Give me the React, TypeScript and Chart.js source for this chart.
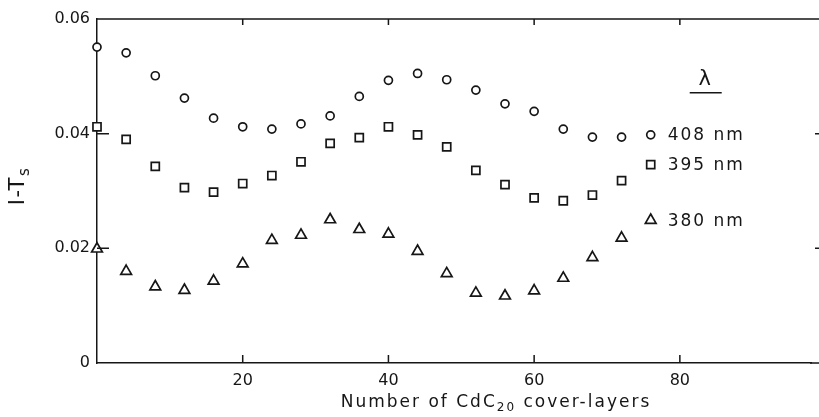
import React, { useEffect, useRef } from 'react';
import { Chart, registerables } from 'chart.js';

Chart.register(...registerables);

// ---- data ----
const layers = [0, 4, 8, 12, 16, 20, 24, 28, 32, 36, 40, 44, 48, 52, 56, 60, 64, 68, 72, 76];
const t408 = [0.0551, 0.0541, 0.0501, 0.0462, 0.0427, 0.0412, 0.0408, 0.0417, 0.0431, 0.0465, 0.0493, 0.0505, 0.0494, 0.0476, 0.0452, 0.0439, 0.0408, 0.0394, 0.0394, 0.0398];
const t395 = [0.0412, 0.0390, 0.0343, 0.0306, 0.0298, 0.0313, 0.0327, 0.0351, 0.0383, 0.0393, 0.0412, 0.0398, 0.0377, 0.0336, 0.0311, 0.0288, 0.0283, 0.0293, 0.0318, 0.0346];
const t380 = [0.0199, 0.0160, 0.0133, 0.0127, 0.0143, 0.0173, 0.0214, 0.0223, 0.0250, 0.0233, 0.0225, 0.0195, 0.0156, 0.0122, 0.0117, 0.0126, 0.0148, 0.0184, 0.0218, 0.0249];
const seriesLabels = ['408 nm', '395 nm', '380 nm'];
const xTickValues = [20, 40, 60, 80];
const yTickValues = [0.02, 0.04];
const legendSymbol = 'λ';

const FONT = '"DejaVu Sans", "Liberation Sans", sans-serif';
const INK = '#161616';

export default function App() {
  const ref = useRef<HTMLCanvasElement>(null);

  useEffect(() => {
    const canvas = ref.current;
    if (!canvas) return;

    const decor = {
      id: 'decor',
      afterDraw(chart: any) {
        const ctx = chart.ctx as CanvasRenderingContext2D;
        const { left, right, top, bottom } = chart.chartArea;
        const xs = chart.scales.x;
        const ys = chart.scales.y;
        const W = chart.width;
        ctx.save();
        ctx.strokeStyle = INK;
        ctx.lineWidth = 1.5;
        // top frame line and bottom extension to the edge
        ctx.beginPath();
        ctx.moveTo(left, top);
        ctx.lineTo(W, top);
        ctx.moveTo(right - 1, bottom);
        ctx.lineTo(W, bottom);
        ctx.stroke();
        // inward ticks
        ctx.beginPath();
        xTickValues.forEach((v) => {
          const px = xs.getPixelForValue(v);
          ctx.moveTo(px, bottom);
          ctx.lineTo(px, bottom - 8);
          ctx.moveTo(px, top);
          ctx.lineTo(px, top + 6);
        });
        yTickValues.forEach((v) => {
          const py = ys.getPixelForValue(v);
          ctx.moveTo(left, py);
          ctx.lineTo(left + 12, py);
          ctx.moveTo(W, py);
          ctx.lineTo(W - 4, py);
        });
        ctx.stroke();

        // series labels next to last points
        ctx.fillStyle = INK;
        ctx.font = `17px ${FONT}`;
        (ctx as any).letterSpacing = '2px';
        ctx.textAlign = 'left';
        ctx.textBaseline = 'middle';
        let firstX = 0;
        let firstY = 0;
        chart.data.datasets.forEach((_ds: any, i: number) => {
          const meta = chart.getDatasetMeta(i);
          const pt = meta.data[meta.data.length - 1];
          if (i === 0) {
            firstX = pt.x + 17;
            firstY = pt.y;
          }
          ctx.fillText(seriesLabels[i], pt.x + 17, pt.y + 1);
        });

        // lambda header with underline
        (ctx as any).letterSpacing = '0px';
        ctx.font = `21px ${FONT}`;
        ctx.textAlign = 'center';
        ctx.fillText(legendSymbol, firstX + 37, firstY - 55);
        ctx.beginPath();
        ctx.moveTo(firstX + 22, firstY - 42);
        ctx.lineTo(firstX + 54, firstY - 42);
        ctx.stroke();

        // x axis title with subscript
        ctx.textAlign = 'left';
        ctx.textBaseline = 'alphabetic';
        (ctx as any).letterSpacing = '2px';
        const seg1 = 'Number of CdC';
        const sub = '20';
        const seg2 = ' cover-layers';
        ctx.font = `17px ${FONT}`;
        const w1 = ctx.measureText(seg1).width;
        const w3 = ctx.measureText(seg2).width;
        ctx.font = `12px ${FONT}`;
        const w2 = ctx.measureText(sub).width;
        const total = w1 + w2 + w3;
        let x0 = 496 - total / 2;
        const base = 407;
        ctx.font = `17px ${FONT}`;
        ctx.fillText(seg1, x0, base);
        x0 += w1;
        ctx.font = `12px ${FONT}`;
        ctx.fillText(sub, x0, base + 4);
        x0 += w2;
        ctx.font = `17px ${FONT}`;
        ctx.fillText(seg2, x0, base);

        // y axis title rotated with subscript
        ctx.save();
        ctx.translate(19, 186);
        ctx.rotate(-Math.PI / 2);
        (ctx as any).letterSpacing = '1.5px';
        ctx.textBaseline = 'middle';
        const ym = 'I-T';
        const ys2 = 's';
        ctx.font = `21px ${FONT}`;
        const wm = ctx.measureText(ym).width;
        ctx.font = `15px ${FONT}`;
        const wsub = ctx.measureText(ys2).width;
        let yx = -(wm + wsub) / 2;
        ctx.font = `21px ${FONT}`;
        ctx.fillText(ym, yx, 0);
        yx += wm;
        ctx.font = `15px ${FONT}`;
        ctx.fillText(ys2, yx, 6);
        ctx.restore();

        ctx.restore();
      },
    };

    const mk = (vals: number[], style: string, radius: number) => ({
      data: layers.map((x, i) => ({ x, y: vals[i] })),
      showLine: false,
      pointStyle: style,
      pointRadius: radius,
      pointHoverRadius: radius,
      pointBorderWidth: 1.7,
      pointBorderColor: INK,
      pointBackgroundColor: '#ffffff',
      borderColor: INK,
      backgroundColor: '#ffffff',
      clip: false,
    });

    const chart = new Chart(canvas, {
      type: 'scatter',
      data: {
        datasets: [
          mk(t408, 'circle', 4),
          mk(t395, 'rect', 5.7),
          mk(t380, 'triangle', 6.2),
        ] as any,
      },
      options: {
        responsive: false,
        animation: false,
        devicePixelRatio: 1,
        layout: { padding: { left: 0, right: 1, top: 19, bottom: 0 } },
        plugins: {
          legend: { display: false },
          tooltip: { enabled: false },
        },
        scales: {
          x: {
            type: 'linear',
            min: 0,
            max: 98,
            grid: { display: false, drawTicks: false },
            border: { display: true, color: INK, width: 1.5 },
            ticks: {
              stepSize: 20,
              padding: 8,
              color: INK,
              font: { family: FONT, size: 16 },
              maxRotation: 0,
              autoSkip: false,
              callback: (v: any) => {
                const n = Number(v);
                return n > 0 && n % 20 === 0 ? String(n) : '';
              },
            },
            afterFit: (s: any) => {
              s.height = 54;
            },
          },
          y: {
            type: 'linear',
            min: 0,
            max: 0.06,
            grid: { display: false, drawTicks: false },
            border: { display: true, color: INK, width: 1.5 },
            ticks: {
              stepSize: 0.02,
              padding: 7,
              color: INK,
              font: { family: FONT, size: 16 },
              callback: (v: any) => {
                const n = Number(v);
                return n === 0 ? '0' : n.toFixed(2);
              },
            },
            afterFit: (s: any) => {
              s.width = 97;
            },
          },
        },
      } as any,
      plugins: [decor],
    });

    return () => chart.destroy();
  }, []);

  return (
    <div style={{ position: 'absolute', left: 0, top: 0, width: 819, height: 417, background: '#fff' }}>
      <canvas ref={ref} width={819} height={417} style={{ display: 'block' }} />
    </div>
  );
}
